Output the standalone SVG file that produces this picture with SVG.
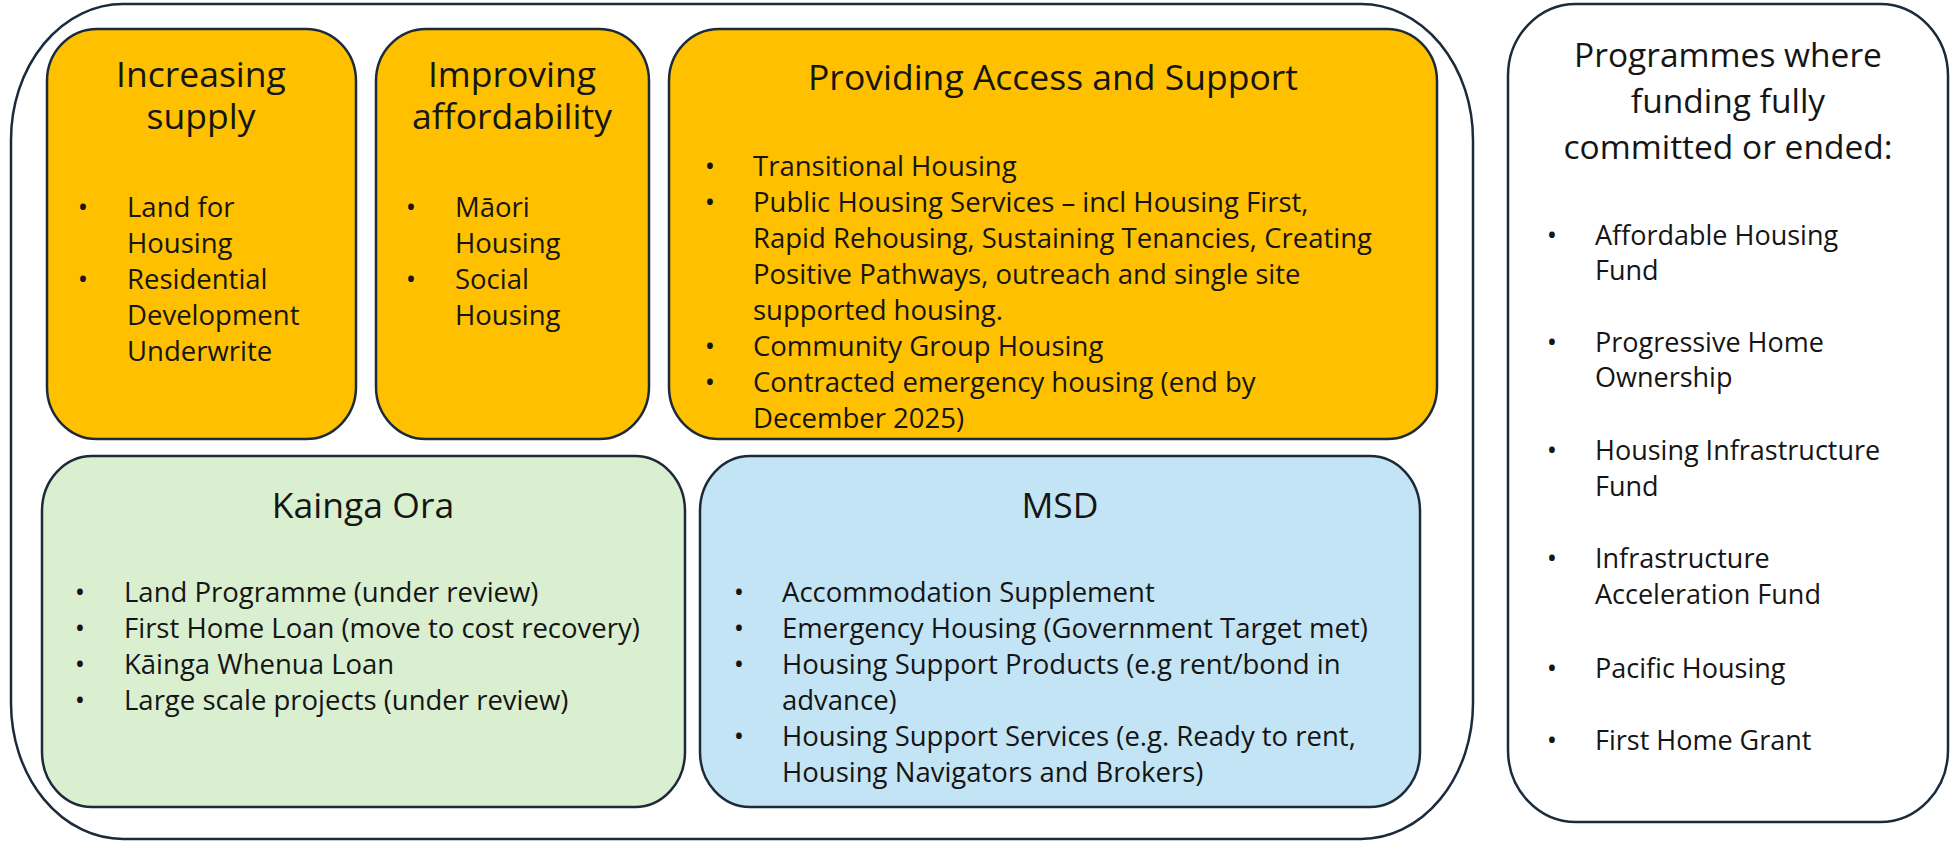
<svg xmlns="http://www.w3.org/2000/svg" width="1953" height="842" viewBox="0 0 1953 842">
  <style>
    .box{stroke:#1b2b3c;stroke-width:2.5}
    .gold{fill:#FFC000}
    .green{fill:#D9EFD0}
    .blue{fill:#C3E4F4}
    .plain{fill:#ffffff}
    .frame{fill:none;stroke:#1b2b3c;stroke-width:2.5}
    text{font-family:"Open Sans","Liberation Sans",sans-serif;fill:#151515}
    .title{font-size:35.5px;text-anchor:middle}
    .body{font-size:27.5px}
    .bul{font-size:27.5px;text-anchor:middle}
    .rtitle{font-size:33.5px;text-anchor:middle}
    .rbody{font-size:27px}
  </style>
  <rect width="1953" height="842" fill="#ffffff"/>

  <!-- outer frame around the funded programme groups -->
  <rect id="frame" class="frame" x="11" y="4" width="1462" height="835" rx="112" ry="136"/>

  <g id="increasing-supply">
    <rect class="box gold" x="47" y="29" width="309" height="410" rx="50" ry="52"/>
    <text class="title" x="201" y="87">Increasing<tspan x="201" dy="42">supply</tspan></text>
    <text class="bul" x="83" y="217">•</text>
    <text class="body" x="127" y="217">Land for</text>
    <text class="body" x="127" y="253">Housing</text>
    <text class="bul" x="83" y="289">•</text>
    <text class="body" x="127" y="289">Residential</text>
    <text class="body" x="127" y="325">Development</text>
    <text class="body" x="127" y="361">Underwrite</text>
  </g>

  <g id="improving-affordability">
    <rect class="box gold" x="376" y="29" width="273" height="410" rx="50" ry="52"/>
    <text class="title" x="512" y="87">Improving<tspan x="512" dy="42">affordability</tspan></text>
    <text class="bul" x="411" y="217">•</text>
    <text class="body" x="455" y="217">Māori</text>
    <text class="body" x="455" y="253">Housing</text>
    <text class="bul" x="411" y="289">•</text>
    <text class="body" x="455" y="289">Social</text>
    <text class="body" x="455" y="325">Housing</text>
  </g>

  <g id="access-support">
    <rect class="box gold" x="669" y="29" width="768" height="410" rx="50" ry="52"/>
    <text class="title" x="1053" y="90">Providing Access and Support</text>
    <text class="bul" x="710" y="176">•</text>
    <text class="body" x="753" y="176">Transitional Housing</text>
    <text class="bul" x="710" y="212">•</text>
    <text class="body" x="753" y="212">Public Housing Services – incl Housing First,</text>
    <text class="body" x="753" y="248">Rapid Rehousing, Sustaining Tenancies, Creating</text>
    <text class="body" x="753" y="284">Positive Pathways, outreach and single site</text>
    <text class="body" x="753" y="320">supported housing.</text>
    <text class="bul" x="710" y="356">•</text>
    <text class="body" x="753" y="356">Community Group Housing</text>
    <text class="bul" x="710" y="392">•</text>
    <text class="body" x="753" y="392">Contracted emergency housing (end by</text>
    <text class="body" x="753" y="428">December 2025)</text>
  </g>

  <g id="kainga-ora">
    <rect class="box green" x="42" y="456" width="643" height="351" rx="50" ry="55"/>
    <text class="title" x="363" y="518">Kainga Ora</text>
    <text class="bul" x="80" y="602">•</text>
    <text class="body" x="124" y="602">Land Programme (under review)</text>
    <text class="bul" x="80" y="638">•</text>
    <text class="body" x="124" y="638">First Home Loan (move to cost recovery)</text>
    <text class="bul" x="80" y="674">•</text>
    <text class="body" x="124" y="674">Kāinga Whenua Loan</text>
    <text class="bul" x="80" y="710">•</text>
    <text class="body" x="124" y="710">Large scale projects (under review)</text>
  </g>

  <g id="msd">
    <rect class="box blue" x="700" y="456" width="720" height="351" rx="50" ry="55"/>
    <text class="title" x="1060" y="518">MSD</text>
    <text class="bul" x="739" y="602">•</text>
    <text class="body" x="782" y="602">Accommodation Supplement</text>
    <text class="bul" x="739" y="638">•</text>
    <text class="body" x="782" y="638">Emergency Housing (Government Target met)</text>
    <text class="bul" x="739" y="674">•</text>
    <text class="body" x="782" y="674">Housing Support Products (e.g rent/bond in</text>
    <text class="body" x="782" y="710">advance)</text>
    <text class="bul" x="739" y="746">•</text>
    <text class="body" x="782" y="746">Housing Support Services (e.g. Ready to rent,</text>
    <text class="body" x="782" y="782">Housing Navigators and Brokers)</text>
  </g>

  <g id="ended-programmes">
    <rect class="box plain" x="1508" y="4" width="440" height="818" rx="68" ry="72"/>
    <text class="rtitle" x="1728" y="67">Programmes where<tspan x="1728" dy="46">funding fully</tspan><tspan x="1728" dy="46">committed or ended:</tspan></text>
    <text class="bul" x="1552" y="245">•</text>
    <text class="rbody" x="1595" y="245">Affordable Housing</text>
    <text class="rbody" x="1595" y="280">Fund</text>
    <text class="bul" x="1552" y="352">•</text>
    <text class="rbody" x="1595" y="352">Progressive Home</text>
    <text class="rbody" x="1595" y="387">Ownership</text>
    <text class="bul" x="1552" y="460">•</text>
    <text class="rbody" x="1595" y="460">Housing Infrastructure</text>
    <text class="rbody" x="1595" y="496">Fund</text>
    <text class="bul" x="1552" y="568">•</text>
    <text class="rbody" x="1595" y="568">Infrastructure</text>
    <text class="rbody" x="1595" y="604">Acceleration Fund</text>
    <text class="bul" x="1552" y="678">•</text>
    <text class="rbody" x="1595" y="678">Pacific Housing</text>
    <text class="bul" x="1552" y="750">•</text>
    <text class="rbody" x="1595" y="750">First Home Grant</text>
  </g>
</svg>
